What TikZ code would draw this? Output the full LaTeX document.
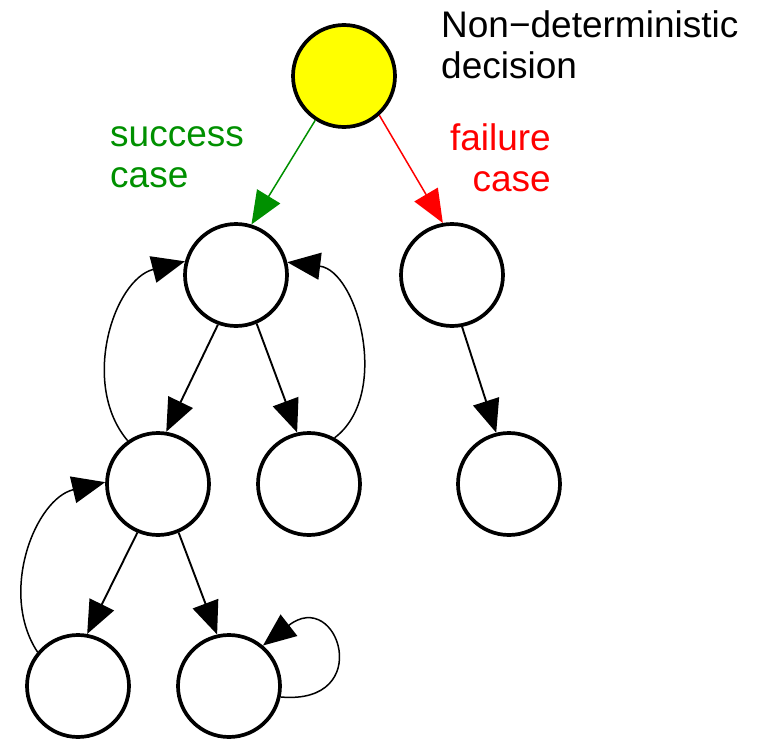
\documentclass[tikz,border=0pt]{standalone}
\usepackage{fontspec}
\setmainfont{Liberation Sans}
\usetikzlibrary{arrows.meta}

\definecolor{okgreen}{RGB}{0,144,0}
\definecolor{choiceyellow}{RGB}{255,255,0}

\tikzset{
    dstate/.style={draw, circle, line width=3.7pt, minimum size=102pt, inner sep=0pt},
    fwd/.style={line width=1.9pt, -{Triangle[length=33pt,width=27pt]}},
    ret/.style={line width=1.5pt, -{Triangle[length=33pt,width=27pt]}},
    lbl/.style={font=\fontsize{37}{41}\selectfont, inner sep=0pt}
}

\begin{document}
\begin{tikzpicture}[x=1pt, y=1pt]
    \useasboundingbox (0,0) rectangle (761,-739);

    % states of the search tree
        \node[dstate, fill=choiceyellow] (root) at (344,-76) {};
        \node[dstate] (succ) at (236,-275) {};
        \node[dstate] (fail) at (452,-275) {};
        \node[dstate] (sl) at (158,-484) {};
        \node[dstate] (sr) at (309,-484) {};
        \node[dstate] (fc) at (509,-484) {};
        \node[dstate] (ll) at (78,-686) {};
        \node[dstate] (lr) at (229,-686) {};

    % labels (base = last line)
        \node[lbl, align=left, anchor=base west] (decide) at (441,-78) {Non−deterministic\\decision};
        \node[lbl, align=left, anchor=base west, text=okgreen] (succlbl) at (110,-187) {success\\case};
        \node[lbl, align=right, anchor=base east, text=red] (faillbl) at (551,-191) {failure\\case};

    % the two branches
    \draw[fwd, okgreen, line width=1.5pt] (root.237) -- (succ.73);
    \draw[fwd, red, line width=1.5pt] (root.312) -- (fail.100);

    % down the tree
    \draw[fwd] (succ.250) -- (sl.81);
    \draw[fwd] (succ.293) -- (sr.103);
    \draw[fwd] (fail.281) -- (fc.104);
    \draw[fwd] (sl.247) -- (ll.80);
    \draw[fwd] (sl.293) -- (lr.103);

    % back up again
    \draw[ret] (sl.125) to[bend left=58] (succ.165);
    \draw[ret] (sr.61) to[bend right=68] (succ.14);
    \draw[ret] (ll.140) to[bend left=55] (sl.178);
    \draw[ret] (lr.-12) to[out=-5, in=38, looseness=4.5] (lr.50);

\end{tikzpicture}
\end{document}
